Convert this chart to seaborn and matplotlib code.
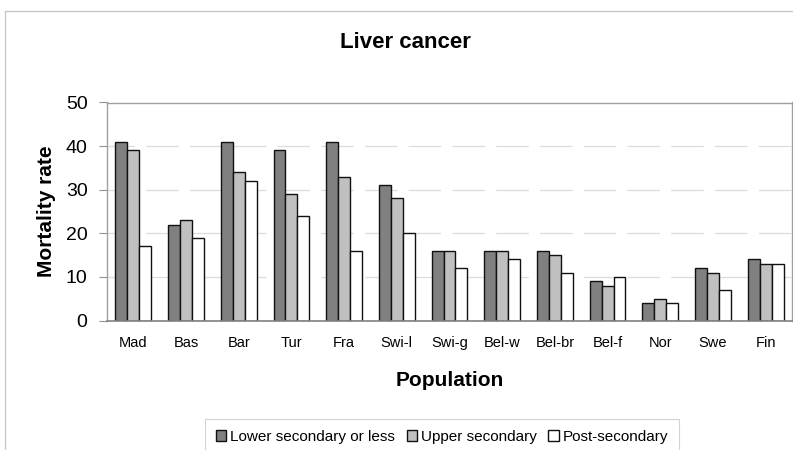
import matplotlib
matplotlib.use('Agg')
import pandas as pd
import numpy as np
import matplotlib.pyplot as plt
import seaborn as sns
from matplotlib.patches import Rectangle

populations = ['Mad', 'Bas', 'Bar', 'Tur', 'Fra', 'Swi-l', 'Swi-g',
               'Bel-w', 'Bel-br', 'Bel-f', 'Nor', 'Swe', 'Fin']
lower_sec = [41, 22, 41, 39, 41, 31, 16, 16, 16, 9, 4, 12, 14]
upper_sec = [39, 23, 34, 29, 33, 28, 16, 16, 15, 8, 5, 11, 13]
post_sec = [17, 19, 32, 24, 16, 20, 12, 14, 11, 10, 4, 7, 13]
levels = ['Lower secondary or less', 'Upper secondary', 'Post-secondary']
colors = ['#808080', '#c0c0c0', '#ffffff']

df = pd.DataFrame({
    'Population': populations * 3,
    'Mortality rate': lower_sec + upper_sec + post_sec,
    'Level': [levels[0]] * 13 + [levels[1]] * 13 + [levels[2]] * 13,
})

sns.set_style('white')
plt.rcParams['font.family'] = ['Liberation Sans', 'DejaVu Sans']
plt.rcParams['text.color'] = 'black'
plt.rcParams['axes.labelcolor'] = 'black'
plt.rcParams['xtick.color'] = 'black'
plt.rcParams['ytick.color'] = 'black'

fig = plt.figure(figsize=(7.93, 4.5), dpi=100)
ax = fig.add_axes([107 / 793, 1 - 320.5 / 450, 685 / 793, 218 / 450])

sns.barplot(data=df, x='Population', y='Mortality rate', hue='Level',
            palette=colors, width=0.68, gap=0, edgecolor='#111111',
            linewidth=1.0, ax=ax, legend=True)

ax.set_ylim(0, 50)
ax.set_yticks(range(0, 51, 10))
ax.set_xlim(-0.5, 12.5)
for y in range(10, 50, 10):
    ax.axhline(y, color='#dcdcdc', lw=0.9, ls=(4, (26, 9)), zorder=0)

for side in ['top', 'right', 'left']:
    ax.spines[side].set_color('#a0a0a0')
    ax.spines[side].set_linewidth(1.0)
ax.spines['bottom'].set_color('#808080')
ax.spines['bottom'].set_linewidth(1.2)

ax.tick_params(axis='y', labelsize=14, length=6, width=0.8, color='#909090',
               labelcolor='black', pad=8, left=True)
ax.tick_params(axis='x', labelsize=10.5, length=0, pad=11, labelcolor='black')
ax.set_xlabel('Population', fontsize=15, fontweight='bold', labelpad=15)
ax.set_ylabel('Mortality rate', fontsize=15, fontweight='bold', labelpad=7)

fig.text(405 / 793, 1 - 42 / 450, 'Liver cancer', fontsize=16, fontweight='bold',
         ha='center', va='center')

ax.get_legend().remove()
handles = [Rectangle((0, 0), 1, 1, facecolor=c, edgecolor='#111111', lw=1.0) for c in colors]
leg = fig.legend(handles, levels, loc='upper left', bbox_to_anchor=(205 / 793, 1 - 419 / 450),
                 ncol=3, fontsize=11, frameon=True, fancybox=False,
                 handlelength=0.7, handleheight=0.7, handletextpad=0.25,
                 columnspacing=0.75, borderpad=0.7, borderaxespad=0)
leg.get_frame().set_edgecolor('#c8c8c8')
leg.get_frame().set_linewidth(0.8)

fig.patches.append(Rectangle((5 / 793, -0.1), 1.2, 1 - 11 / 450 + 0.1,
                             transform=fig.transFigure, fill=False,
                             edgecolor='#c8c8c8', lw=1.0))

fig.savefig('out.png', dpi=100)
